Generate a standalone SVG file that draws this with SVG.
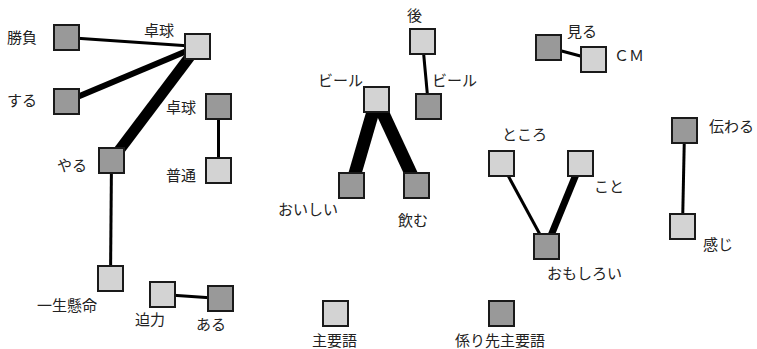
<svg xmlns="http://www.w3.org/2000/svg" width="757" height="349" viewBox="0 0 757 349">
<style>
.l{fill:#d3d3d3;stroke:#1a1a1a;stroke-width:2}
.d{fill:#999999;stroke:#1a1a1a;stroke-width:2}
.e{stroke:#000;fill:none;stroke-linecap:butt}
text{font-family:"Noto Sans CJK JP","Noto Sans CJK SC",sans-serif;font-size:15px;fill:#222}
</style>
<rect width="757" height="349" fill="#fff"/>
<g id="connectors">
<line class="e" x1="66.5" y1="37.5" x2="197.5" y2="46.5" stroke-width="3"/>
<line class="e" x1="66.5" y1="101.5" x2="197.5" y2="46.5" stroke-width="6"/>
<line class="e" x1="111.5" y1="160.5" x2="197.5" y2="46.5" stroke-width="11"/>
<line class="e" x1="111.5" y1="160.5" x2="110.5" y2="278.5" stroke-width="3"/>
<line class="e" x1="218.5" y1="106.5" x2="218.5" y2="170.5" stroke-width="3"/>
<line class="e" x1="162.5" y1="294.5" x2="220.5" y2="298.5" stroke-width="3"/>
<line class="e" x1="422.5" y1="41.5" x2="428.5" y2="106.5" stroke-width="3"/>
<line class="e" x1="376.5" y1="99.5" x2="351.5" y2="185.5" stroke-width="13"/>
<line class="e" x1="376.5" y1="99.5" x2="416.5" y2="185.5" stroke-width="13"/>
<line class="e" x1="548.5" y1="47.5" x2="593.5" y2="59.5" stroke-width="3"/>
<line class="e" x1="501.5" y1="163.5" x2="546.5" y2="246.5" stroke-width="3"/>
<line class="e" x1="580.5" y1="163.5" x2="546.5" y2="246.5" stroke-width="7"/>
<line class="e" x1="684.5" y1="130.5" x2="682.5" y2="226.5" stroke-width="3"/>
</g>
<g id="n-shobu"><rect class="d" x="54" y="25" width="25" height="25"/><text x="7" y="43">勝負</text></g>
<g id="n-takkyu1"><rect class="l" x="185" y="34" width="25" height="25"/><text x="144" y="36">卓球</text></g>
<g id="n-suru"><rect class="d" x="54" y="89" width="25" height="25"/><text x="7" y="106">する</text></g>
<g id="n-takkyu2"><rect class="d" x="206" y="94" width="25" height="25"/><text x="166" y="113">卓球</text></g>
<g id="n-yaru"><rect class="d" x="99" y="148" width="25" height="25"/><text x="57" y="171">やる</text></g>
<g id="n-futsu"><rect class="l" x="206" y="158" width="25" height="25"/><text x="166" y="181">普通</text></g>
<g id="n-isshokenmei"><rect class="l" x="98" y="266" width="25" height="25"/><text x="37" y="311">一生懸命</text></g>
<g id="n-hakuryoku"><rect class="l" x="150" y="282" width="25" height="25"/><text x="135" y="325">迫力</text></g>
<g id="n-aru"><rect class="d" x="208" y="286" width="25" height="25"/><text x="196" y="330">ある</text></g>
<g id="n-ato"><rect class="l" x="410" y="29" width="25" height="25"/><text x="407" y="21">後</text></g>
<g id="n-beer2"><rect class="d" x="416" y="94" width="25" height="25"/><text x="432" y="86">ビール</text></g>
<g id="n-beer1"><rect class="l" x="364" y="87" width="25" height="25"/><text x="318" y="86">ビール</text></g>
<g id="n-oishii"><rect class="d" x="339" y="173" width="25" height="25"/><text x="278" y="215">おいしい</text></g>
<g id="n-nomu"><rect class="d" x="404" y="173" width="25" height="25"/><text x="398" y="226">飲む</text></g>
<g id="n-miru"><rect class="d" x="536" y="35" width="25" height="25"/><text x="567" y="37">見る</text></g>
<g id="n-cm"><rect class="l" x="581" y="47" width="25" height="25"/><text x="614" y="61">ＣＭ</text></g>
<g id="n-tokoro"><rect class="l" x="489" y="151" width="25" height="25"/><text x="502" y="140">ところ</text></g>
<g id="n-koto"><rect class="l" x="568" y="151" width="25" height="25"/><text x="594" y="192">こと</text></g>
<g id="n-tsutawaru"><rect class="d" x="672" y="118" width="25" height="25"/><text x="709" y="132">伝わる</text></g>
<g id="n-kanji"><rect class="l" x="670" y="214" width="25" height="25"/><text x="703" y="250">感じ</text></g>
<g id="n-omoshiroi"><rect class="d" x="534" y="234" width="25" height="25"/><text x="547" y="279">おもしろい</text></g>
<g id="legend-main"><rect class="l" x="323" y="301" width="25" height="25"/><text x="312" y="346">主要語</text></g>
<g id="legend-dep"><rect class="d" x="489" y="301" width="25" height="25"/><text x="455" y="346">係り先主要語</text></g>
</svg>
